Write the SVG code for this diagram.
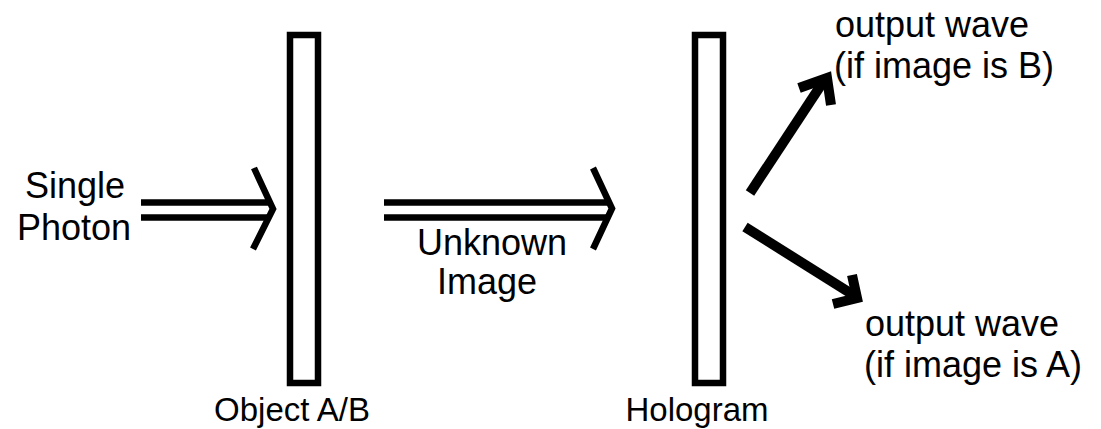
<svg xmlns="http://www.w3.org/2000/svg" width="1101" height="429" viewBox="0 0 1101 429">
  <style>
    .lbl { font-family: "Liberation Sans", Arial, sans-serif; font-size: 36px; fill: #000; }
    .cap { font-size: 33px; }
    .mid { text-anchor: middle; }
    .plate { fill: #fff; stroke: #000; stroke-width: 6.5; }
    .beam { fill: none; stroke: #000; stroke-width: 6.5; }
    .ray { fill: none; stroke: #000; stroke-width: 10; stroke-linejoin: miter; }
  </style>
  <rect width="1101" height="429" fill="#fff"/>

  <g id="object">
    <rect class="plate" x="290" y="35" width="28" height="348"/>
    <text class="lbl cap mid" x="292" y="421">Object A/B</text>
  </g>

  <g id="hologram">
    <rect class="plate" x="695" y="35" width="28" height="348"/>
    <text class="lbl cap mid" x="697" y="421">Hologram</text>
  </g>

  <g id="photon">
    <text class="lbl mid" x="75" y="198">Single</text>
    <text class="lbl mid" x="74" y="240">Photon</text>
  </g>

  <g id="image-label">
    <text class="lbl mid" x="492" y="255">Unknown</text>
    <text class="lbl mid" x="487" y="294">Image</text>
  </g>

  <g id="output-b">
    <text class="lbl" x="835" y="37">output wave</text>
    <text class="lbl" x="834" y="78">(if image is B)</text>
  </g>

  <g id="output-a">
    <text class="lbl" x="865" y="336">output wave</text>
    <text class="lbl" x="864" y="377">(if image is A)</text>
  </g>

  <g id="connectors">
    <!-- double-line arrow into the object -->
    <path class="beam" d="M141 202.5 H270 M141 217.5 H270"/>
    <path class="beam" d="M254 168 L273 209 L253 249"/>
    <!-- double-line arrow into the hologram -->
    <path class="beam" d="M384 202.5 H608 M384 217.5 H608"/>
    <path class="beam" d="M593 168 L612 208.5 L593 249"/>
    <!-- reconstructed output rays -->
    <path class="ray" d="M750 193 L825 79"/>
    <path class="ray" d="M799 88 L827 78 L831 105"/>
    <path class="ray" d="M745 227 L855 296"/>
    <path class="ray" d="M852 275 L857 298 L833 304"/>
  </g>
</svg>
